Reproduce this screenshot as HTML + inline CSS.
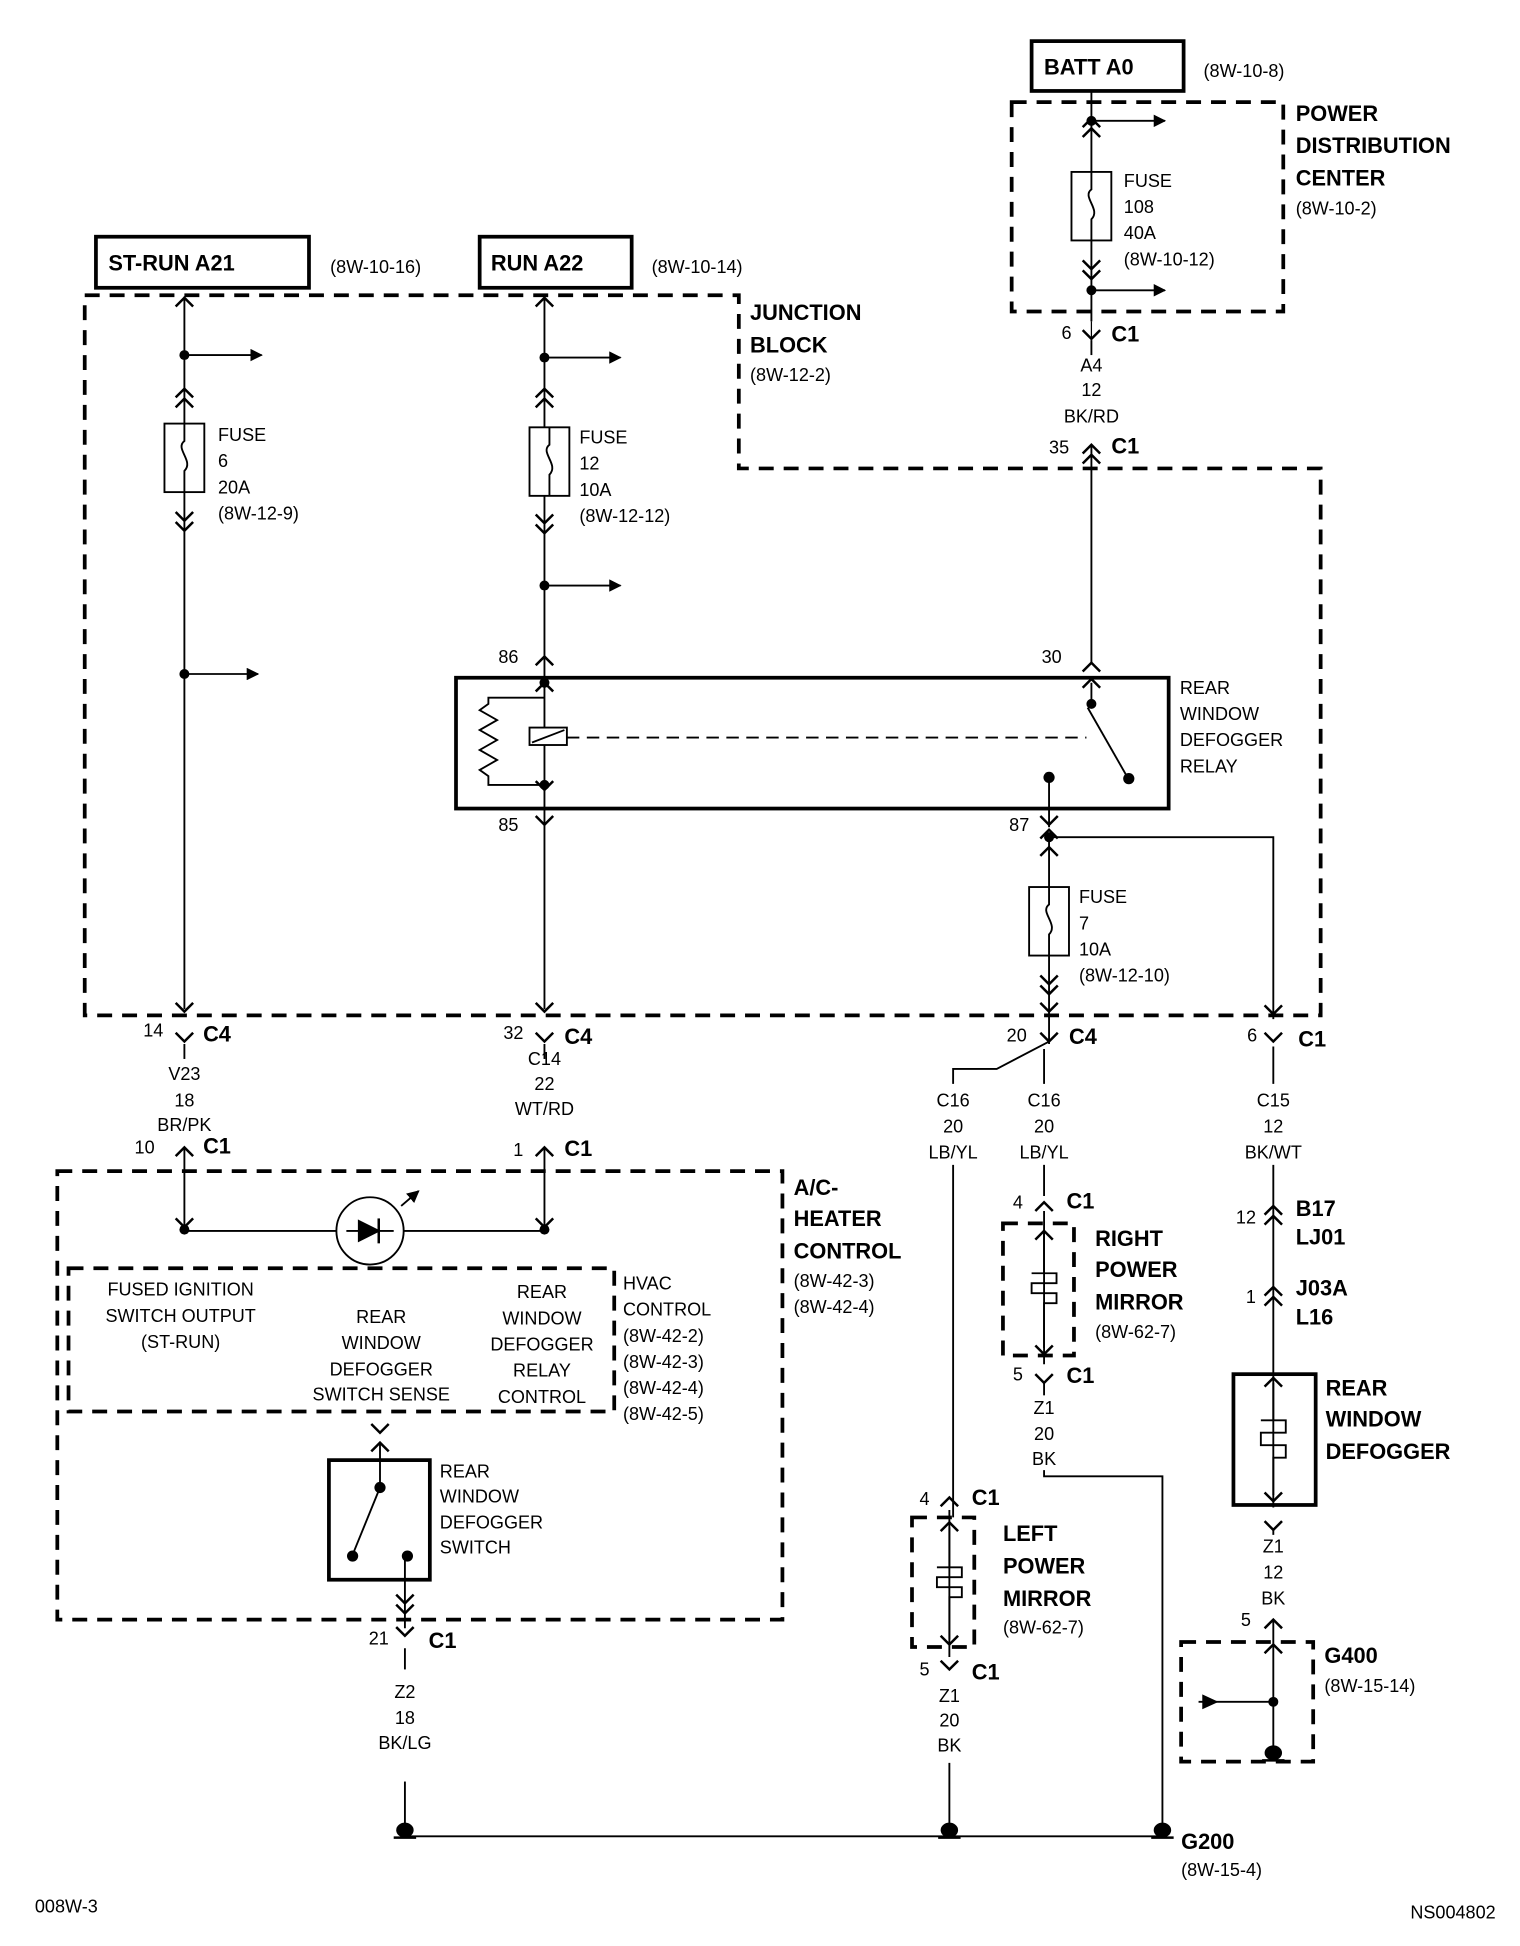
<!DOCTYPE html>
<html><head><meta charset="utf-8"><style>
html,body{margin:0;padding:0;background:#fff;}
svg{display:block}
text{font-family:"Liberation Sans",Arial,sans-serif;fill:#000}
.s{font-size:14.5px}
.b{font-size:17.5px;font-weight:bold}
.m{text-anchor:middle}
</style></head><body>
<svg width="1520" height="1946" viewBox="0 0 1220 1562" preserveAspectRatio="none" xmlns="http://www.w3.org/2000/svg">
<defs>
<g id="dn"><path d="M-7,-7 L0,0 L7,-7" fill="none" stroke="#000" stroke-width="2"/></g>
<g id="up"><path d="M-7,7 L0,0 L7,7" fill="none" stroke="#000" stroke-width="2"/></g>
<marker id="ar" markerWidth="10" markerHeight="10" refX="9" refY="5" orient="auto" markerUnits="userSpaceOnUse"><path d="M0,0 L10,5 L0,10 z"/></marker>
<g id="fuse"><rect x="-16" y="0" width="32" height="55" fill="#fff" stroke="#000" stroke-width="1.5"/><path d="M0,0 L0,14 C-8,20 8,30 0,38 L0,55" fill="none" stroke="#000" stroke-width="1.5"/></g>
<g id="gnd"><line x1="-9" y1="8" x2="9" y2="8" stroke="#000" stroke-width="2"/><ellipse cx="0" cy="2" rx="7" ry="6"/></g>
</defs>
<g stroke="#000" fill="none" stroke-width="1.5">
<rect x="828" y="33" width="122" height="40" stroke-width="3"/>
<rect x="77" y="190" width="171" height="41" stroke-width="3"/>
<rect x="385" y="190" width="122" height="41" stroke-width="3"/>
<g stroke-dasharray="12,8" stroke-width="3">
<rect x="812" y="82" width="218" height="168"/>
<path d="M68,237 L593,237 L593,376 L1060,376 L1060,815 L68,815 Z"/>
<rect x="46" y="940" width="582" height="360"/>
<rect x="55" y="1018" width="438" height="115"/>
<rect x="805" y="982" width="57" height="106"/>
<rect x="732" y="1218" width="50" height="104"/>
<rect x="948" y="1318" width="106" height="96"/>
</g>
<rect x="366" y="544" width="572" height="105" stroke-width="3"/>
<rect x="990" y="1103" width="66" height="105" stroke-width="3"/>
<rect x="264" y="1172" width="81" height="96" stroke-width="3"/>
<line x1="876" y1="73" x2="876" y2="258"/>
<line x1="876" y1="97" x2="935" y2="97" marker-end="url(#ar)"/>
<line x1="876" y1="233" x2="935" y2="233" marker-end="url(#ar)"/>
<line x1="876" y1="273" x2="876" y2="285"/>
<line x1="876" y1="357" x2="876" y2="532"/>
<line x1="148" y1="238" x2="148" y2="810"/>
<line x1="148" y1="285" x2="210" y2="285" marker-end="url(#ar)"/>
<line x1="148" y1="541" x2="207" y2="541" marker-end="url(#ar)"/>
<line x1="437" y1="238" x2="437" y2="810"/>
<line x1="437" y1="287" x2="498" y2="287" marker-end="url(#ar)"/>
<line x1="437" y1="470" x2="498" y2="470" marker-end="url(#ar)"/>
<path d="M437,560 L392,560 L392,565 L385,570 L399,578 L385,586 L399,594 L385,602 L399,610 L385,618 L392,623 L392,630 L437,630"/>
<rect x="425" y="584" width="30" height="14" fill="#fff"/>
<line x1="427" y1="596" x2="453" y2="586"/>
<line x1="455" y1="592" x2="872" y2="592" stroke-dasharray="10,6"/>
<line x1="876" y1="548" x2="876" y2="565"/>
<line x1="873" y1="568" x2="905" y2="624"/>
<line x1="842" y1="624" x2="842" y2="664"/>
<line x1="842" y1="668" x2="842" y2="838"/>
<path d="M842,672 L1022,672 L1022,818"/>
<path d="M842,836 L800,858 L765,858 L765,870"/>
<line x1="765" y1="935" x2="765" y2="1218"/>
<line x1="838" y1="842" x2="838" y2="870"/>
<line x1="838" y1="935" x2="838" y2="960"/>
<line x1="838" y1="972" x2="838" y2="1095"/>
<path d="M838,1180 L838,1185 L933,1185 L933,1470"/>
<line x1="838" y1="1110" x2="838" y2="1120"/>
<line x1="1022" y1="840" x2="1022" y2="870"/>
<line x1="1022" y1="935" x2="1022" y2="1210"/>
<line x1="1022" y1="1228" x2="1022" y2="1232"/>
<line x1="1022" y1="1300" x2="1022" y2="1410"/>
<line x1="962" y1="1366" x2="1022" y2="1366"/>
<line x1="148" y1="838" x2="148" y2="850"/>
<line x1="148" y1="921" x2="148" y2="987"/>
<line x1="437" y1="838" x2="437" y2="850"/>
<line x1="437" y1="921" x2="437" y2="987"/>
<line x1="148" y1="988" x2="270" y2="988"/><line x1="324" y1="988" x2="437" y2="988"/>
<circle cx="297" cy="988" r="27"/>
<line x1="278" y1="988" x2="316" y2="988"/>
<path d="M288,980 L304,988 L288,996 Z" fill="#000"/>
<line x1="304" y1="978" x2="304" y2="998" stroke-width="2"/>
<line x1="322" y1="968" x2="336" y2="956" marker-end="url(#ar)"/>
<line x1="305" y1="1158" x2="305" y2="1192"/>
<line x1="305" y1="1194" x2="283" y2="1248"/>
<line x1="325" y1="1250" x2="325" y2="1307"/>
<line x1="325" y1="1323" x2="325" y2="1340"/>
<line x1="325" y1="1430" x2="325" y2="1470"/>
<line x1="325" y1="1474" x2="933" y2="1474"/>
<line x1="762" y1="1212" x2="762" y2="1330"/>
<line x1="762" y1="1415" x2="762" y2="1470"/>
<path d="M838,990 L838,1022 M828,1022 L848,1022 L848,1030 L828,1030 L828,1038 L848,1038 L848,1046 L838,1046 L838,1082"/>
<path d="M762,1226 L762,1258 M752,1258 L772,1258 L772,1266 L752,1266 L752,1274 L772,1274 L772,1282 L762,1282 L762,1316"/>
<path d="M1022,1110 L1022,1140 M1012,1140 L1032,1140 L1032,1150 L1012,1150 L1012,1160 L1032,1160 L1032,1170 L1022,1170 L1022,1200"/>
</g>
<use href="#fuse" x="876" y="138"/>
<use href="#fuse" x="148" y="340"/>
<use href="#fuse" x="441" y="343"/>
<use href="#fuse" x="842" y="712"/>
<g fill="#000">
<circle cx="876" cy="97" r="4"/><circle cx="876" cy="233" r="4"/>
<circle cx="148" cy="285" r="4"/><circle cx="148" cy="541" r="4"/>
<circle cx="437" cy="287" r="4"/><circle cx="437" cy="470" r="4"/>
<circle cx="437" cy="548" r="4"/><circle cx="437" cy="630" r="4"/>
<circle cx="876" cy="565" r="4"/><circle cx="906" cy="625" r="4.5"/>
<circle cx="842" cy="624" r="4.5"/><circle cx="842" cy="672" r="4"/>
<circle cx="148" cy="987" r="4"/><circle cx="437" cy="987" r="4"/>
<circle cx="305" cy="1194" r="4.5"/><circle cx="283" cy="1249" r="4.5"/><circle cx="327" cy="1249" r="4.5"/>
<circle cx="1022" cy="1366" r="4"/>
<path d="M965,1360 L978,1366 L965,1372 Z"/>
</g>
<use href="#gnd" x="325" y="1467"/>
<use href="#gnd" x="762" y="1467"/>
<use href="#gnd" x="933" y="1467"/>
<use href="#gnd" x="1022" y="1405"/>
<use href="#up" x="876" y="95"/><use href="#up" x="876" y="103"/>
<use href="#dn" x="876" y="216"/><use href="#dn" x="876" y="224"/>
<use href="#dn" x="876" y="272"/><line x1="876" y1="258" x2="876" y2="272" stroke="#000"/>
<use href="#up" x="876" y="357"/><use href="#up" x="876" y="365"/>
<use href="#up" x="148" y="239"/><use href="#up" x="148" y="312"/><use href="#up" x="148" y="320"/>
<use href="#dn" x="148" y="418"/><use href="#dn" x="148" y="426"/>
<use href="#dn" x="148" y="812"/><use href="#dn" x="148" y="836"/>
<use href="#up" x="437" y="239"/><use href="#up" x="437" y="312"/><use href="#up" x="437" y="320"/>
<use href="#dn" x="437" y="420"/><use href="#dn" x="437" y="428"/>
<use href="#up" x="437" y="527"/><use href="#up" x="437" y="548"/>
<use href="#dn" x="437" y="634"/><use href="#dn" x="437" y="662"/>
<use href="#dn" x="437" y="812"/><use href="#dn" x="437" y="836"/>
<use href="#up" x="876" y="532"/><use href="#up" x="876" y="545"/>
<use href="#dn" x="842" y="662"/><use href="#up" x="842" y="666"/><use href="#up" x="842" y="680"/>
<use href="#dn" x="842" y="790"/><use href="#dn" x="842" y="798"/><use href="#dn" x="842" y="812"/>
<use href="#dn" x="842" y="836"/>
<use href="#dn" x="1022" y="814"/><use href="#dn" x="1022" y="836"/>
<use href="#up" x="148" y="921"/><use href="#dn" x="148" y="985"/>
<use href="#up" x="437" y="921"/><use href="#dn" x="437" y="985"/>
<use href="#dn" x="305" y="1150"/><use href="#up" x="305" y="1158"/>
<use href="#dn" x="325" y="1287"/><use href="#dn" x="325" y="1295"/><use href="#dn" x="325" y="1313"/>
<use href="#up" x="838" y="965"/><use href="#up" x="838" y="988"/>
<use href="#dn" x="838" y="1087"/><use href="#dn" x="838" y="1110"/>
<use href="#up" x="762" y="1202"/><use href="#up" x="762" y="1222"/>
<use href="#dn" x="762" y="1320"/><use href="#dn" x="762" y="1340"/>
<use href="#up" x="1022" y="968"/><use href="#up" x="1022" y="976"/>
<use href="#up" x="1022" y="1033"/><use href="#up" x="1022" y="1041"/>
<use href="#up" x="1022" y="1106"/><use href="#dn" x="1022" y="1205"/><use href="#dn" x="1022" y="1228"/>
<use href="#up" x="1022" y="1300"/><use href="#up" x="1022" y="1320"/>
<text x="838" y="60" class="b">BATT A0</text><text x="966" y="62" class="s">(8W-10-8)</text>
<text x="1040" y="97" class="b">POWER</text><text x="1040" y="123" class="b">DISTRIBUTION</text><text x="1040" y="149" class="b">CENTER</text><text x="1040" y="172" class="s">(8W-10-2)</text>
<text x="902" y="150" class="s">FUSE</text><text x="902" y="171" class="s">108</text><text x="902" y="192" class="s">40A</text><text x="902" y="213" class="s">(8W-10-12)</text>
<text x="852" y="272" class="s">6</text><text x="892" y="274" class="b">C1</text>
<text x="876" y="298" class="s m">A4</text><text x="876" y="318" class="s m">12</text><text x="876" y="339" class="s m">BK/RD</text>
<text x="842" y="364" class="s">35</text><text x="892" y="364" class="b">C1</text>
<text x="87" y="217" class="b">ST-RUN A21</text><text x="265" y="219" class="s">(8W-10-16)</text>
<text x="394" y="217" class="b">RUN A22</text><text x="523" y="219" class="s">(8W-10-14)</text>
<text x="602" y="257" class="b">JUNCTION</text><text x="602" y="283" class="b">BLOCK</text><text x="602" y="306" class="s">(8W-12-2)</text>
<text x="175" y="354" class="s">FUSE</text><text x="175" y="375" class="s">6</text><text x="175" y="396" class="s">20A</text><text x="175" y="417" class="s">(8W-12-9)</text>
<text x="465" y="356" class="s">FUSE</text><text x="465" y="377" class="s">12</text><text x="465" y="398" class="s">10A</text><text x="465" y="419" class="s">(8W-12-12)</text>
<text x="400" y="532" class="s">86</text><text x="836" y="532" class="s">30</text>
<text x="400" y="667" class="s">85</text><text x="810" y="667" class="s">87</text>
<text x="947" y="557" class="s">REAR</text><text x="947" y="578" class="s">WINDOW</text><text x="947" y="599" class="s">DEFOGGER</text><text x="947" y="620" class="s">RELAY</text>
<text x="866" y="725" class="s">FUSE</text><text x="866" y="746" class="s">7</text><text x="866" y="767" class="s">10A</text><text x="866" y="788" class="s">(8W-12-10)</text>
<text x="115" y="832" class="s">14</text><text x="163" y="836" class="b">C4</text>
<text x="404" y="834" class="s">32</text><text x="453" y="838" class="b">C4</text>
<text x="808" y="836" class="s">20</text><text x="858" y="838" class="b">C4</text>
<text x="1001" y="836" class="s">6</text><text x="1042" y="840" class="b">C1</text>
<text x="148" y="867" class="s m">V23</text><text x="148" y="888" class="s m">18</text><text x="148" y="908" class="s m">BR/PK</text>
<text x="437" y="855" class="s m">C14</text><text x="437" y="875" class="s m">22</text><text x="437" y="895" class="s m">WT/RD</text>
<text x="108" y="926" class="s">10</text><text x="163" y="926" class="b">C1</text>
<text x="412" y="928" class="s">1</text><text x="453" y="928" class="b">C1</text>
<text x="765" y="888" class="s m">C16</text><text x="765" y="909" class="s m">20</text><text x="765" y="930" class="s m">LB/YL</text>
<text x="838" y="888" class="s m">C16</text><text x="838" y="909" class="s m">20</text><text x="838" y="930" class="s m">LB/YL</text>
<text x="1022" y="888" class="s m">C15</text><text x="1022" y="909" class="s m">12</text><text x="1022" y="930" class="s m">BK/WT</text>
<text x="637" y="959" class="b">A/C-</text><text x="637" y="984" class="b">HEATER</text><text x="637" y="1010" class="b">CONTROL</text><text x="637" y="1033" class="s">(8W-42-3)</text><text x="637" y="1054" class="s">(8W-42-4)</text>
<text x="145" y="1040" class="s m">FUSED IGNITION</text><text x="145" y="1061" class="s m">SWITCH OUTPUT</text><text x="145" y="1082" class="s m">(ST-RUN)</text>
<text x="306" y="1062" class="s m">REAR</text><text x="306" y="1083" class="s m">WINDOW</text><text x="306" y="1104" class="s m">DEFOGGER</text><text x="306" y="1124" class="s m">SWITCH SENSE</text>
<text x="435" y="1042" class="s m">REAR</text><text x="435" y="1063" class="s m">WINDOW</text><text x="435" y="1084" class="s m">DEFOGGER</text><text x="435" y="1105" class="s m">RELAY</text><text x="435" y="1126" class="s m">CONTROL</text>
<text x="500" y="1035" class="s">HVAC</text><text x="500" y="1056" class="s">CONTROL</text><text x="500" y="1077" class="s">(8W-42-2)</text><text x="500" y="1098" class="s">(8W-42-3)</text><text x="500" y="1119" class="s">(8W-42-4)</text><text x="500" y="1140" class="s">(8W-42-5)</text>
<text x="353" y="1186" class="s">REAR</text><text x="353" y="1206" class="s">WINDOW</text><text x="353" y="1227" class="s">DEFOGGER</text><text x="353" y="1247" class="s">SWITCH</text>
<text x="296" y="1320" class="s">21</text><text x="344" y="1323" class="b">C1</text>
<text x="325" y="1363" class="s m">Z2</text><text x="325" y="1384" class="s m">18</text><text x="325" y="1404" class="s m">BK/LG</text>
<text x="813" y="970" class="s">4</text><text x="856" y="970" class="b">C1</text>
<text x="879" y="1000" class="b">RIGHT</text><text x="879" y="1025" class="b">POWER</text><text x="879" y="1051" class="b">MIRROR</text><text x="879" y="1074" class="s">(8W-62-7)</text>
<text x="813" y="1108" class="s">5</text><text x="856" y="1110" class="b">C1</text>
<text x="838" y="1135" class="s m">Z1</text><text x="838" y="1156" class="s m">20</text><text x="838" y="1176" class="s m">BK</text>
<text x="992" y="982" class="s">12</text><text x="1040" y="976" class="b">B17</text><text x="1040" y="999" class="b">LJ01</text>
<text x="1000" y="1046" class="s">1</text><text x="1040" y="1040" class="b">J03A</text><text x="1040" y="1063" class="b">L16</text>
<text x="1064" y="1120" class="b">REAR</text><text x="1064" y="1145" class="b">WINDOW</text><text x="1064" y="1171" class="b">DEFOGGER</text>
<text x="1022" y="1246" class="s m">Z1</text><text x="1022" y="1267" class="s m">12</text><text x="1022" y="1288" class="s m">BK</text>
<text x="996" y="1305" class="s">5</text>
<text x="1063" y="1335" class="b">G400</text><text x="1063" y="1358" class="s">(8W-15-14)</text>
<text x="738" y="1208" class="s">4</text><text x="780" y="1208" class="b">C1</text>
<text x="805" y="1237" class="b">LEFT</text><text x="805" y="1263" class="b">POWER</text><text x="805" y="1289" class="b">MIRROR</text><text x="805" y="1311" class="s">(8W-62-7)</text>
<text x="738" y="1345" class="s">5</text><text x="780" y="1348" class="b">C1</text>
<text x="762" y="1366" class="s m">Z1</text><text x="762" y="1386" class="s m">20</text><text x="762" y="1406" class="s m">BK</text>
<text x="948" y="1484" class="b">G200</text><text x="948" y="1506" class="s">(8W-15-4)</text>
<text x="28" y="1535" class="s">008W-3</text><text x="1132" y="1540" class="s">NS004802</text>
</svg>
</body></html>
